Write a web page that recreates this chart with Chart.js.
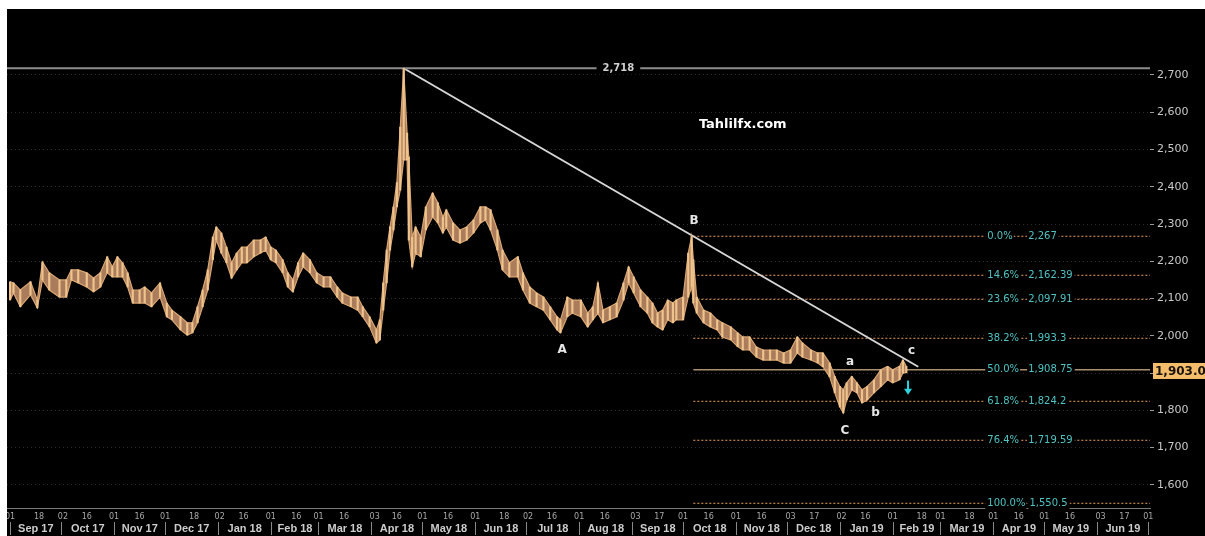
<!DOCTYPE html>
<html>
<head>
<meta charset="utf-8">
<script src="https://cdn.jsdelivr.net/npm/chart.js@4.4.1/dist/chart.umd.min.js"></script>
<style>
  html, body { margin: 0; padding: 0; background: #fff; }
  #wrap { position: absolute; left: 7px; top: 9px; width: 1198px; height: 527px; background: #000; }
</style>
</head>
<body>
<div id="wrap"><canvas id="aluChart"></canvas></div>
<script>
// price bars: day offset from 2017-09-01, high and low
const days = [
  0, 2, 6, 12, 16, 19, 23, 29, 33, 36,
  40, 45, 49, 53, 57, 60, 63, 66, 69, 72,
  76, 79, 83, 88, 92, 95, 100, 104, 107, 110,
  113, 116, 119, 121, 124, 127, 130, 133, 136, 139,
  143, 147, 150, 153, 156, 160, 163, 166, 169, 172,
  176, 180, 184, 188, 192, 195, 200, 204, 207, 211,
  215, 217, 219, 221, 223, 225, 227, 229, 231, 233,
  234, 236, 238, 241, 244, 248, 251, 254, 256, 260,
  264, 268, 272, 276, 279, 282, 286, 289, 293, 298,
  301, 305, 309, 313, 317, 321, 323, 327, 330, 335,
  339, 342, 345, 348, 352, 356, 360, 363, 366, 370,
  374, 377, 380, 383, 386, 389, 391, 395, 398, 400,
  401, 403, 407, 411, 415, 418, 423, 427, 430, 434,
  438, 442, 446, 450, 454, 458, 462, 465, 470, 474,
  477, 481, 484, 487, 489, 491, 494, 497, 500, 503,
  507, 511, 515, 518, 522, 524, 526
];
const highs = [
  2145, 2142, 2123, 2145, 2096, 2198, 2169, 2150, 2150, 2177,
  2177, 2169, 2155, 2169, 2212, 2185, 2212, 2196, 2169, 2123,
  2123, 2131, 2115, 2142, 2088, 2069, 2051, 2035, 2035, 2078,
  2123, 2177, 2265, 2292, 2276, 2238, 2196, 2222, 2238, 2238,
  2257, 2257, 2265, 2238, 2230, 2204, 2169, 2150, 2196, 2222,
  2204, 2169, 2158, 2158, 2131, 2115, 2104, 2104, 2078, 2051,
  2016, 2043, 2142, 2230, 2293, 2346, 2411, 2560, 2718, 2544,
  2480, 2265, 2292, 2265, 2346, 2383, 2357, 2319, 2338, 2303,
  2284, 2292, 2311, 2346, 2346, 2338, 2284, 2230, 2196, 2212,
  2169, 2131, 2115, 2104, 2078, 2051, 2043, 2104, 2096, 2096,
  2061, 2078, 2142, 2069, 2078, 2088, 2142, 2185, 2158, 2123,
  2104, 2088, 2061, 2069, 2096, 2088, 2096, 2104, 2222, 2267,
  2204, 2104, 2069, 2061, 2043, 2035, 2024, 2008, 1997, 1997,
  1970, 1962, 1962, 1962, 1954, 1962, 1997, 1981, 1962, 1954,
  1954, 1927, 1891, 1864, 1855, 1874, 1891, 1874, 1855, 1864,
  1882, 1909, 1918, 1909, 1918, 1935, 1918
];
const lows = [
  2096, 2115, 2078, 2110, 2075, 2150, 2123, 2104, 2104, 2150,
  2142, 2131, 2118, 2131, 2169, 2158, 2158, 2158, 2131, 2088,
  2088, 2088, 2078, 2104, 2051, 2043, 2016, 2002, 2008, 2035,
  2078, 2123, 2204, 2257, 2222, 2196, 2155, 2177, 2196, 2196,
  2212, 2222, 2230, 2204, 2196, 2169, 2131, 2118, 2158, 2185,
  2169, 2142, 2131, 2131, 2104, 2088, 2078, 2069, 2051, 2024,
  1981, 1989, 2069, 2142, 2230, 2284, 2346, 2391, 2472, 2472,
  2257, 2185, 2222, 2212, 2284, 2319, 2303, 2276, 2292, 2257,
  2249, 2257, 2276, 2303, 2311, 2284, 2230, 2177, 2158, 2158,
  2123, 2088, 2078, 2069, 2043, 2016, 2008, 2051, 2061, 2051,
  2024, 2043, 2061, 2035, 2043, 2051, 2096, 2142, 2115, 2078,
  2061, 2035, 2024, 2016, 2043, 2035, 2043, 2043, 2104, 2131,
  2088, 2061, 2035, 2024, 2016, 1997, 1989, 1971, 1962, 1962,
  1943, 1935, 1935, 1935, 1927, 1927, 1954, 1943, 1935, 1927,
  1917, 1890, 1847, 1809, 1793, 1828, 1855, 1847, 1820, 1828,
  1847, 1864, 1882, 1874, 1882, 1900, 1901
];

const tickDates = [
  '2017-09-01', '2017-09-18', '2017-10-02', '2017-10-16', '2017-11-01', '2017-11-16',
  '2017-12-01', '2017-12-18', '2018-01-02', '2018-01-16', '2018-02-01', '2018-02-16',
  '2018-03-01', '2018-03-16', '2018-04-03', '2018-04-16', '2018-05-01', '2018-05-16',
  '2018-06-01', '2018-06-18', '2018-07-02', '2018-07-16', '2018-08-01', '2018-08-16',
  '2018-09-03', '2018-09-17', '2018-10-01', '2018-10-16', '2018-11-01', '2018-11-16',
  '2018-12-03', '2018-12-17', '2019-01-02', '2019-01-16', '2019-02-01', '2019-02-18',
  '2019-03-01', '2019-03-18', '2019-04-01', '2019-04-16', '2019-05-01', '2019-05-16',
  '2019-06-03', '2019-06-17', '2019-07-01'
];
const monthLabels = [
  'Sep 17', 'Oct 17', 'Nov 17', 'Dec 17', 'Jan 18', 'Feb 18', 'Mar 18', 'Apr 18',
  'May 18', 'Jun 18', 'Jul 18', 'Aug 18', 'Sep 18', 'Oct 18', 'Nov 18', 'Dec 18',
  'Jan 19', 'Feb 19', 'Mar 19', 'Apr 19', 'May 19', 'Jun 19'
];
const monthStarts = [
  '2017-09-01', '2017-10-01', '2017-11-01', '2017-12-01', '2018-01-01', '2018-02-01',
  '2018-03-01', '2018-04-01', '2018-05-01', '2018-06-01', '2018-07-01', '2018-08-01',
  '2018-09-01', '2018-10-01', '2018-11-01', '2018-12-01', '2019-01-01', '2019-02-01',
  '2019-03-01', '2019-04-01', '2019-05-01', '2019-06-01', '2019-07-01'
];
const yTicks = [1600, 1700, 1800, 1900, 2000, 2100, 2200, 2300, 2400, 2500, 2600, 2700];

// annotations
const peakDay = 231, peakPrice = 2718;
const trendEndDay = 533, trendEndPrice = 1917;
const fibStartDay = 401;
const fibPct = ['0.0%', '14.6%', '23.6%', '38.2%', '50.0%', '61.8%', '76.4%', '100.0%'];
const fibVal = [2267, 2162.39, 2097.91, 1993.3, 1908.75, 1824.2, 1719.59, 1550.5];
const lastPrice = 1903.0;
const waveLabels = ['A', 'B', 'C', 'a', 'b', 'c'];
const waveDays = [324, 401.5, 490, 493, 508, 529];
const wavePrices = [1961, 2308, 1745, 1930, 1793, 1960];

const xMin = -1.8, xMax = 669;
const yMin = 1538, yMax = 2877;

function dayOf(s) {
    return (Date.parse(s) - Date.parse('2017-09-01')) / 86400000;
}
function fmt(v) {
    return v.toLocaleString('en-US', { maximumFractionDigits: 2 });
}

const overlay = {
    id: 'overlay',
    afterDatasetsDraw(chart) {
        const { ctx, scales: { x, y } } = chart;
        ctx.save();
        ctx.textBaseline = 'middle';

        // 2,718 label on the grey line
        ctx.font = 'bold 10px "DejaVu Sans"';
        const tx = x.getPixelForValue(357), ty = y.getPixelForValue(peakPrice);
        const tw = ctx.measureText('2,718').width;
        ctx.fillStyle = '#000';
        ctx.fillRect(tx - tw / 2 - 6, ty - 6, tw + 12, 12);
        ctx.fillStyle = '#d0d0d0';
        ctx.textAlign = 'center';
        ctx.fillText('2,718', tx, ty);

        // fibonacci labels
        ctx.font = '10px "DejaVu Sans"';
        ctx.textAlign = 'left';
        fibPct.forEach((p, i) => {
            const py = y.getPixelForValue(fibVal[i]);
            const p1 = x.getPixelForValue(573.5);
            const w1 = ctx.measureText(p).width;
            const val = fmt(fibVal[i]);
            const w2 = ctx.measureText(val).width;
            const p2 = Math.max(x.getPixelForValue(597.5), p1 + w1 + 4);
            ctx.fillStyle = '#000';
            ctx.fillRect(p1 - 2, py - 6, w1 + 3, 12);
            ctx.fillRect(p2 - 1, py - 6, w2 + 3, 12);
            ctx.fillStyle = '#4fc2c2';
            ctx.fillText(p, p1, py);
            ctx.fillText(val, p2, py);
        });

        // wave letters
        ctx.font = 'bold 12px "DejaVu Sans"';
        ctx.textAlign = 'center';
        ctx.fillStyle = '#e6e6e6';
        waveLabels.forEach((l, i) => {
            ctx.fillText(l, x.getPixelForValue(waveDays[i]), y.getPixelForValue(wavePrices[i]));
        });

        ctx.font = 'bold 13px "DejaVu Sans"';
        ctx.fillStyle = '#ffffff';
        ctx.fillText('Tahlilfx.com', x.getPixelForValue(430), y.getPixelForValue(2568));

        // cyan arrow
        const ax = x.getPixelForValue(527);
        const a1 = y.getPixelForValue(1880), a2 = y.getPixelForValue(1842);
        ctx.strokeStyle = '#2ed3e0';
        ctx.fillStyle = '#2ed3e0';
        ctx.lineWidth = 2;
        ctx.beginPath();
        ctx.moveTo(ax, a1);
        ctx.lineTo(ax, a2 - 5);
        ctx.stroke();
        ctx.beginPath();
        ctx.moveTo(ax - 4, a2 - 6);
        ctx.lineTo(ax + 4, a2 - 6);
        ctx.lineTo(ax, a2);
        ctx.closePath();
        ctx.fill();
        ctx.restore();
    },
    afterDraw(chart) {
        const { ctx, chartArea, scales: { x, y } } = chart;
        ctx.save();
        // month row
        ctx.font = 'bold 11px "Liberation Sans"';
        ctx.textAlign = 'center';
        ctx.textBaseline = 'middle';
        ctx.strokeStyle = '#8a8a8a';
        ctx.lineWidth = 1;
        monthStarts.forEach((m, i) => {
            const px = Math.round(x.getPixelForValue(dayOf(m))) + 0.5;
            ctx.beginPath();
            ctx.moveTo(px, chartArea.bottom + 14);
            ctx.lineTo(px, chartArea.bottom + 27);
            ctx.stroke();
            if (i < monthLabels.length) {
                const nx = x.getPixelForValue(dayOf(monthStarts[i + 1]));
                ctx.fillStyle = '#cccccc';
                ctx.fillText(monthLabels[i], (px + nx) / 2, chartArea.bottom + 20.5);
            }
        });

        // last price box
        const py = y.getPixelForValue(lastPrice);
        ctx.fillStyle = '#f4bd6c';
        ctx.fillRect(chartArea.right + 3, py - 9, 60, 16);
        ctx.fillStyle = '#1a1208';
        ctx.font = 'bold 12px "DejaVu Sans"';
        ctx.textAlign = 'left';
        ctx.fillText(lastPrice.toFixed(1).replace(/^(\d)(\d{3})/, '$1,$2'), chartArea.right + 5, py - 0.5);
        ctx.restore();
    }
};

const bars = days.map((d, i) => ({ x: d, y: [lows[i], highs[i]] }));
const highLine = days.map((d, i) => ({ x: d, y: highs[i] }));
const lowLine = days.map((d, i) => ({ x: d, y: lows[i] }));

const fibSets = fibVal.map((v, i) => ({
    type: 'line',
    data: [{ x: fibStartDay, y: v }, { x: xMax, y: v }],
    borderColor: fibPct[i] === '50.0%' ? '#a89070' : '#c4864c',
    borderWidth: fibPct[i] === '50.0%' ? 1.5 : 1.2,
    borderDash: fibPct[i] === '50.0%' ? [] : [2, 2],
    borderCapStyle: 'butt',
    pointRadius: 0
}));

const ctx = document.getElementById('aluChart').getContext('2d');

const chart = new Chart(ctx, {
    type: 'line',
    data: {
        datasets: [
            {
                type: 'bar',
                data: bars,
                backgroundColor: '#efc48c',
                barThickness: 1.5
            },
            {
                data: highLine,
                borderColor: '#d9a672',
                borderWidth: 1.2,
                pointRadius: 0,
                fill: false
            },
            {
                data: lowLine,
                borderColor: '#d9a672',
                borderWidth: 1.2,
                pointRadius: 0,
                fill: '-1',
                backgroundColor: 'rgba(200, 146, 108, 0.85)'
            },
            {
                data: [{ x: xMin, y: peakPrice }, { x: xMax, y: peakPrice }],
                borderColor: '#8c8c8c',
                borderWidth: 2,
                pointRadius: 0
            },
            {
                data: [{ x: peakDay, y: peakPrice }, { x: trendEndDay, y: trendEndPrice }],
                borderColor: '#d6d6d6',
                borderWidth: 2,
                pointRadius: 0
            },
            ...fibSets
        ]
    },
    options: {
        responsive: true,
        maintainAspectRatio: false,
        animation: false,
        layout: { padding: 0, autoPadding: false },
        plugins: {
            legend: { display: false },
            tooltip: { enabled: false }
        },
        scales: {
            x: {
                type: 'linear',
                min: xMin,
                max: xMax,
                offset: false,
                afterBuildTicks: (s) => { s.ticks = tickDates.map(d => ({ value: dayOf(d) })); },
                afterFit: (s) => { s.height = 28; s.paddingLeft = 0; s.paddingRight = 0; },
                ticks: {
                    autoSkip: false,
                    maxRotation: 0,
                    padding: 4,
                    color: '#a8a8a8',
                    font: { family: 'DejaVu Sans', size: 8 },
                    callback: (v, i) => tickDates[i].slice(8)
                },
                grid: { display: false, drawTicks: false, offset: false },
                border: { display: true, color: '#7a7a7a', width: 1 }
            },
            y: {
                position: 'right',
                min: yMin,
                max: yMax,
                afterBuildTicks: (s) => { s.ticks = yTicks.map(v => ({ value: v })); },
                afterFit: (s) => { s.width = 55; s.paddingTop = 0; s.paddingBottom = 0; },
                ticks: {
                    padding: 3,
                    color: '#c8c8c8',
                    font: { family: 'DejaVu Sans', size: 11 },
                    callback: (v) => fmt(v)
                },
                grid: { color: '#2c2c2c', tickColor: '#9a9a9a', tickLength: 4 },
                border: { display: false, dash: [1, 3] }
            }
        }
    },
    plugins: [overlay]
});
</script>
</body>
</html>
